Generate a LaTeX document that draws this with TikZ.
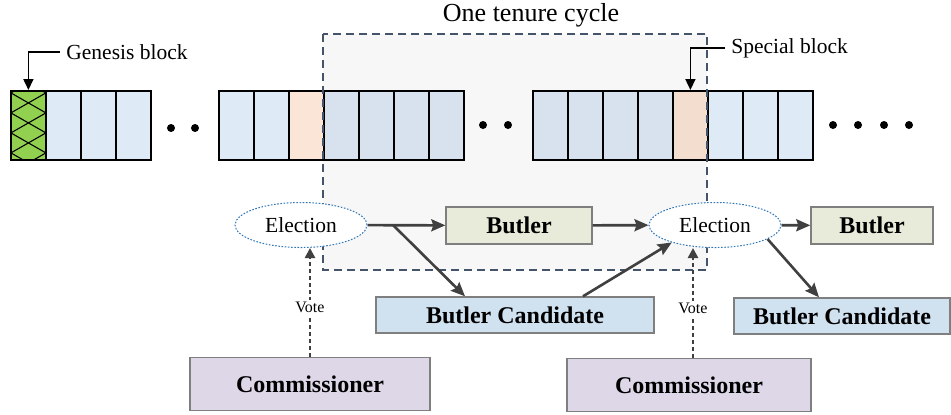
\documentclass[tikz,border=0pt]{standalone}
\usepackage{fontspec}
\setmainfont{Liberation Serif}
\usetikzlibrary{arrows.meta,shapes.geometric}
\definecolor{block-blue}{HTML}{DEEAF6}
\definecolor{special-orange}{HTML}{FBE5D6}
\definecolor{genesis-green}{HTML}{92D050}
\definecolor{election-blue}{HTML}{2E75B6}
\definecolor{box-grey}{HTML}{7F7F7F}
\definecolor{butler-olive}{HTML}{E9EBDA}
\definecolor{candidate-blue}{HTML}{D0E1F0}
\definecolor{commissioner-purple}{HTML}{DDD7E8}
\definecolor{arrow-grey}{HTML}{404040}
\definecolor{cycle-navy}{HTML}{44546A}
\tikzset{
    block-cell/.style = {draw=black, line width=0.9pt, fill=block-blue, rectangle, minimum width=17.5pt, minimum height=34.5pt, inner sep=0pt, anchor=north west},
    special-cell/.style = {block-cell, fill=special-orange},
    genesis-cell/.style = {block-cell, fill=genesis-green, path picture={
        \foreach \k in {1,11,...,51} {
            \draw[black, line width=0.55pt] ([yshift=-\k pt]path picture bounding box.north west) -- ([yshift=-\k pt+10pt]path picture bounding box.north east);
            \draw[black, line width=0.55pt] ([yshift=-\k pt+10pt]path picture bounding box.north west) -- ([yshift=-\k pt]path picture bounding box.north east);
        }}},
    election-node/.style = {ellipse, draw=election-blue, line width=0.5pt, dash pattern=on 0.8pt off 0.8pt, fill=white, minimum width=66pt, minimum height=22.5pt, inner sep=0pt, font=\fontsize{10.75}{12}\selectfont},
    role-box/.style = {rectangle, draw=box-grey, line width=0.7pt, inner sep=0pt, font=\fontsize{12}{14}\selectfont\bfseries},
    butler-box/.style = {role-box, fill=butler-olive, minimum height=18.5pt},
    candidate-box/.style = {role-box, fill=candidate-blue, minimum height=18pt},
    commissioner-box/.style = {role-box, fill=commissioner-purple, minimum height=26.5pt},
    flow-arrow/.style = {draw=arrow-grey, line width=1.3pt, -{Stealth[length=7pt,width=6pt,inset=1pt]}},
    vote-arrow/.style = {draw=arrow-grey, line width=1.3pt, dash pattern=on 2pt off 1.5pt, -{Triangle[length=5pt,width=5pt]}},
    vote-label/.style = {fill=white, inner sep=1pt, font=\fontsize{8}{9}\selectfont, text=black},
    callout-arrow/.style = {draw=black, line width=0.8pt, -{Triangle[length=5.5pt,width=5pt]}},
    callout-label/.style = {anchor=west, inner sep=3pt, font=\fontsize{10.75}{12}\selectfont},
    cycle-box/.style = {draw=cycle-navy, line width=0.6pt, dash pattern=on 4pt off 2.5pt, fill=black, fill opacity=0.03},
}
\begin{document}
\begin{tikzpicture}[x=0.5pt, y=-0.5pt]
\useasboundingbox (0,0) rectangle (951,414);

% the chain of blocks
\node[genesis-cell] (genesis) at (10,90) {};
\foreach \x [count=\i] in {45,80,115}
    \node[block-cell] (first-\i) at (\x,90) {};
\foreach \x [count=\i] in {218,253,323,358,393,428}
    \node[block-cell] (second-\i) at (\x,90) {};
\node[special-cell] (tenure-start) at (288,90) {};
\foreach \x [count=\i] in {532,567,602,637,707,742,777}
    \node[block-cell] (third-\i) at (\x,90) {};
\node[special-cell] (special) at (672,90) {};
\foreach \x/\y in {171/128,195/128,483/125,508/125,833/125,858/125,884/125,909/125}
    \fill (\x,\y) circle (2pt);

% one tenure cycle
\draw[cycle-box] (323,34) rectangle (707,270);
\node[font=\fontsize{13}{15}\selectfont] (cycle-title) at (531,15) {One tenure cycle};

% callouts
\node[callout-label] (genesis-label) at (60,52) {Genesis block};
\draw[callout-arrow] (genesis-label.west) -| (genesis.north);
\node[callout-label] (special-label) at (725,48) {Special block};
\draw[callout-arrow] (special-label.west) -| (special.north);

% roles
\node[election-node] (election-a) at (301,225) {Election};
\node[election-node] (election-b) at (715,225) {Election};
\node[butler-box, minimum width=73pt] (butler-a) at (519,225.5) {Butler};
\node[butler-box, minimum width=61pt] (butler-b) at (872,225.5) {Butler};
\node[candidate-box, minimum width=139pt] (candidate-a) at (515,315) {Butler Candidate};
\node[candidate-box, minimum width=108pt] (candidate-b) at (842,316) {Butler Candidate};
\node[commissioner-box, minimum width=120pt] (commissioner-a) at (310,384) {Commissioner};
\node[commissioner-box, minimum width=122pt] (commissioner-b) at (689,385) {Commissioner};

% flow of a tenure
\coordinate (split) at (393,225);
\draw[flow-arrow] (election-a) -- (butler-a);
\draw[flow-arrow] (split) -- ([xshift=-25pt]candidate-a.north);
\draw[flow-arrow] (butler-a) -- (election-b);
\draw[flow-arrow] ([xshift=34pt]candidate-a.north) -- (election-b.202);
\draw[flow-arrow] (election-b) -- (butler-b);
\draw[flow-arrow] (election-b.-15) -- ([xshift=-11.5pt]candidate-b.north);

% votes
\draw[vote-arrow] (commissioner-a.north) -- node[vote-label, pos=0.45] {Vote} (commissioner-a.north |- election-a.south);
\draw[vote-arrow] ([xshift=2pt]commissioner-b.north) -- node[vote-label, pos=0.45] {Vote} ([xshift=2pt]commissioner-b.north |- election-b.south);
\end{tikzpicture}
\end{document}
